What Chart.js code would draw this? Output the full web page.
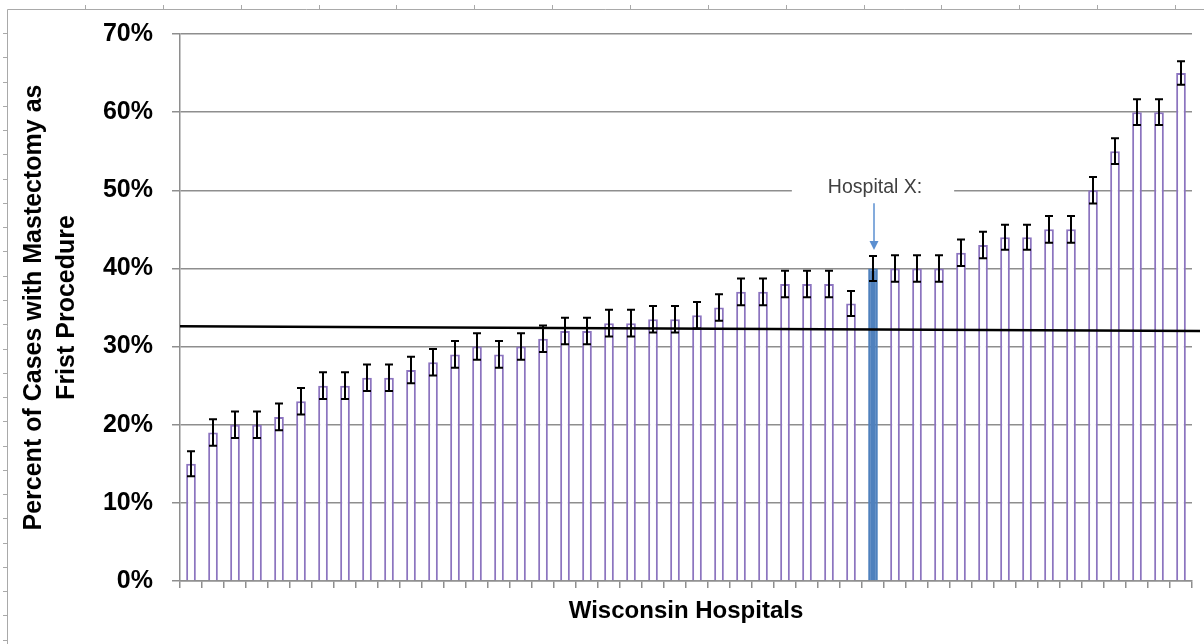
<!DOCTYPE html>
<html>
<head>
<meta charset="utf-8">
<title>Mastectomy as First Procedure - Wisconsin Hospitals</title>
<script src="https://cdn.jsdelivr.net/npm/chart.js@4.4.1/dist/chart.umd.min.js"></script>
<style>
    html, body { margin: 0; padding: 0; background: #ffffff; }
    #wrap { width: 1204px; height: 644px; position: relative; }
</style>
</head>
<body>
<div id="wrap"><canvas id="chart"></canvas></div>
<script>
// Data
const hospitals = [
    'H1', 'H2', 'H3', 'H4', 'H5', 'H6', 'H7', 'H8', 'H9', 'H10',
    'H11', 'H12', 'H13', 'H14', 'H15', 'H16', 'H17', 'H18', 'H19', 'H20',
    'H21', 'H22', 'H23', 'H24', 'H25', 'H26', 'H27', 'H28', 'H29', 'H30',
    'H31', 'Hospital X', 'H33', 'H34', 'H35', 'H36', 'H37', 'H38', 'H39', 'H40',
    'H41', 'H42', 'H43', 'H44', 'H45', 'H46'
];
const mastectomyPct = [
    15, 19, 20, 20, 21, 23, 25, 25, 26, 26,
    27, 28, 29, 30, 29, 30, 31, 32, 32, 33,
    33, 33.5, 33.5, 34, 35, 37, 37, 38, 38, 38,
    35.5, 40, 40, 40, 40, 42, 43, 44, 44, 45,
    45, 50, 55, 60, 60, 65
];
const errorPct = [
    1.6, 1.7, 1.7, 1.7, 1.7, 1.7, 1.7, 1.7, 1.7, 1.7,
    1.7, 1.7, 1.7, 1.7, 1.7, 1.7, 1.7, 1.7, 1.7, 1.7,
    1.7, 1.7, 1.7, 1.7, 1.7, 1.7, 1.7, 1.7, 1.7, 1.7,
    1.6, 1.6, 1.7, 1.7, 1.7, 1.7, 1.7, 1.6, 1.6, 1.7,
    1.7, 1.7, 1.65, 1.65, 1.65, 1.5
];
const averageLine = [32.6, 32.0];   // state average, left end / right end
const yTicks = [0, 10, 20, 30, 40, 50, 60, 70];
const highlightLabel = 'Hospital X';
const annotationText = 'Hospital X:';
const annotationLevel = 50;

const purple = '#8c74bf';
const blue = '#4f81bd';
const gridGray = '#8e8e8e';
const font = '"Liberation Sans", Arial, sans-serif';

const highlightIndex = hospitals.indexOf(highlightLabel);
const barFill = hospitals.map((h, i) => i === highlightIndex ? blue : '#ffffff');
const barBorder = hospitals.map((h, i) => i === highlightIndex ? blue : purple);

// worksheet frame behind the chart
const framePlugin = {
    id: 'frame',
    beforeDraw(chart) {
        const ctx = chart.ctx;
        ctx.save();
        ctx.fillStyle = '#ffffff';
        ctx.fillRect(0, 0, chart.width, chart.height);
        ctx.strokeStyle = '#a9a9a9';
        ctx.lineWidth = 1;
        ctx.beginPath();
        ctx.moveTo(7.5, chart.height);
        ctx.lineTo(7.5, 9.5);
        ctx.lineTo(chart.width, 9.5);
        for (let x = 85; x < chart.width; x += 77.86) {
            ctx.moveTo(Math.round(x) + 0.5, 5);
            ctx.lineTo(Math.round(x) + 0.5, 9);
        }
        for (let y = 33; y < chart.height; y += 24.27) {
            ctx.moveTo(3, Math.round(y) + 0.5);
            ctx.lineTo(7, Math.round(y) + 0.5);
        }
        ctx.stroke();
        ctx.restore();
    }
};

// error bars, average line and the Hospital X callout
const overlayPlugin = {
    id: 'overlay',
    afterDatasetsDraw(chart) {
        const ctx = chart.ctx;
        const yScale = chart.scales.y;
        const meta = chart.getDatasetMeta(0);
        const area = chart.chartArea;
        ctx.save();

        // error bars
        ctx.strokeStyle = '#000000';
        ctx.lineWidth = 2;
        meta.data.forEach((bar, i) => {
            const top = yScale.getPixelForValue(mastectomyPct[i] + errorPct[i]);
            const bot = yScale.getPixelForValue(mastectomyPct[i] - errorPct[i]);
            ctx.beginPath();
            ctx.moveTo(bar.x, top);
            ctx.lineTo(bar.x, bot);
            ctx.moveTo(bar.x - 4, top);
            ctx.lineTo(bar.x + 4, top);
            ctx.moveTo(bar.x - 4, bot);
            ctx.lineTo(bar.x + 4, bot);
            ctx.stroke();
        });

        // average line
        ctx.lineWidth = 2.5;
        ctx.beginPath();
        ctx.moveTo(area.left, yScale.getPixelForValue(averageLine[0]));
        ctx.lineTo(area.right + 8, yScale.getPixelForValue(averageLine[1]));
        ctx.stroke();

        // callout
        const hx = meta.data[highlightIndex].x;
        const ly = yScale.getPixelForValue(annotationLevel);
        ctx.font = '19.5px ' + font;
        const tw = ctx.measureText(annotationText).width;
        ctx.fillStyle = '#ffffff';
        ctx.fillRect(hx - tw / 2 - 34, ly - 4, tw + 68, 8);
        ctx.fillStyle = '#404040';
        ctx.textAlign = 'center';
        ctx.textBaseline = 'middle';
        ctx.fillText(annotationText, hx + 2, ly - 3);

        const tipY = yScale.getPixelForValue(mastectomyPct[highlightIndex] + errorPct[highlightIndex]) - 6;
        ctx.strokeStyle = '#5b8fd0';
        ctx.fillStyle = '#5b8fd0';
        ctx.lineWidth = 1.5;
        ctx.beginPath();
        ctx.moveTo(hx + 1, ly + 13);
        ctx.lineTo(hx + 1, tipY - 8);
        ctx.stroke();
        ctx.beginPath();
        ctx.moveTo(hx + 1 - 4.5, tipY - 9);
        ctx.lineTo(hx + 1 + 4.5, tipY - 9);
        ctx.lineTo(hx + 1, tipY);
        ctx.closePath();
        ctx.fill();

        ctx.restore();
    }
};

const ctx = document.getElementById('chart').getContext('2d');
new Chart(ctx, {
    type: 'bar',
    data: {
        labels: hospitals,
        datasets: [{
            label: 'Percent of Cases with Mastectomy as First Procedure',
            data: mastectomyPct,
            backgroundColor: barFill,
            borderColor: barBorder,
            borderWidth: 2,
            barPercentage: 0.44,
            categoryPercentage: 1.0
        }]
    },
    options: {
        responsive: true,
        maintainAspectRatio: false,
        animation: false,
        devicePixelRatio: 1,
        layout: { padding: { top: 34, right: 12, bottom: 0, left: 0 } },
        plugins: {
            legend: { display: false },
            tooltip: { enabled: true }
        },
        scales: {
            x: {
                grid: {
                    offset: true,
                    drawOnChartArea: false,
                    drawTicks: true,
                    tickLength: 7,
                    color: gridGray,
                    lineWidth: 1.5
                },
                border: { color: gridGray, width: 1.5 },
                ticks: { display: false },
                title: {
                    display: true,
                    text: 'Wisconsin Hospitals',
                    color: '#000000',
                    font: { family: font, size: 24, weight: 'bold', lineHeight: 1.2 },
                    padding: { top: 0, bottom: 18 }
                },
                afterFit: (scale) => { scale.height = 63; }
            },
            y: {
                min: 0,
                max: 70,
                afterBuildTicks: (scale) => { scale.ticks = yTicks.map(v => ({ value: v })); },
                grid: {
                    color: gridGray,
                    lineWidth: 1.5,
                    tickLength: 8
                },
                border: { color: gridGray, width: 1.5 },
                ticks: {
                    padding: 19,
                    color: '#000000',
                    font: { family: font, size: 25, weight: 'bold' },
                    callback: (v) => v + '%'
                },
                title: {
                    display: true,
                    text: ['Percent of Cases with Mastectomy as', 'Frist Procedure'],
                    color: '#000000',
                    font: { family: font, size: 25, weight: 'bold', lineHeight: 1.3 },
                    padding: { top: 18, bottom: 0 }
                },
                afterFit: (scale) => { scale.width = 180; }
            }
        }
    },
    plugins: [framePlugin, overlayPlugin]
});
</script>
</body>
</html>
